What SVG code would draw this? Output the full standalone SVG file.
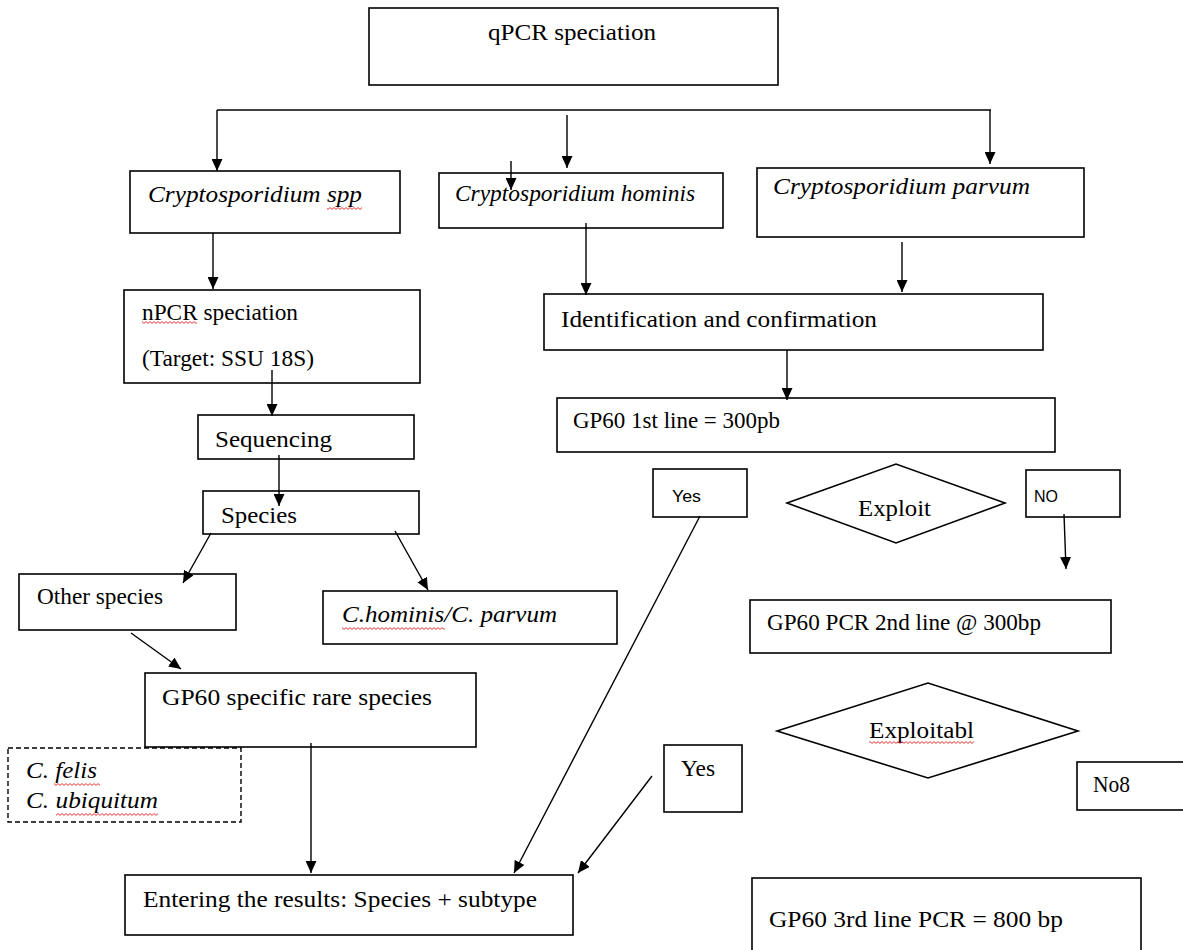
<svg xmlns="http://www.w3.org/2000/svg" width="1183" height="950" viewBox="0 0 1183 950">
<style>
  .box{fill:#fff;stroke:#000;stroke-width:1.6}
  .dash{fill:#fff;stroke:#000;stroke-width:1.4;stroke-dasharray:5,3}
  .dia{fill:#fff;stroke:#000;stroke-width:1.6}
  .t{font-family:"Liberation Serif","Times New Roman",serif;font-size:24px;fill:#000}
  .i{font-style:italic}
  .s{font-family:"Liberation Sans",Arial,sans-serif;font-size:17px;fill:#000}
  .c line{stroke:#000;stroke-width:1.4}
  .a{marker-end:url(#ah)}
</style>
<defs>
  <marker id="ah" markerUnits="userSpaceOnUse" markerWidth="12" markerHeight="11" refX="12" refY="5.5" orient="auto">
    <path d="M0,0 L12,5.5 L0,11 z" fill="#000"/>
  </marker>
  <pattern id="sq" patternUnits="userSpaceOnUse" width="4" height="3">
    <path d="M0,2.4 L2,0.6 L4,2.4" fill="none" stroke="#e02020" stroke-width="0.9"/>
  </pattern>
</defs>
<rect width="1183" height="950" fill="#fff"/>

<g id="n-qpcr"><rect class="box" x="369" y="8" width="409" height="77"/><text class="t" x="488" y="40" textLength="168" lengthAdjust="spacingAndGlyphs">qPCR speciation</text></g>

<g id="n-spp"><rect class="box" x="130" y="171" width="270" height="62"/><text class="t i" x="148" y="202" textLength="214" lengthAdjust="spacingAndGlyphs">Cryptosporidium spp</text><rect x="327" y="207" width="35" height="3" fill="url(#sq)"/></g>

<g id="n-hominis"><rect class="box" x="439" y="173" width="284" height="55"/><text class="t i" x="455" y="201" textLength="240" lengthAdjust="spacingAndGlyphs">Cryptosporidium hominis</text></g>

<g id="n-parvum"><rect class="box" x="757" y="168" width="327" height="69"/><text class="t i" x="773" y="194" textLength="257" lengthAdjust="spacingAndGlyphs">Cryptosporidium parvum</text></g>

<g id="n-npcr"><rect class="box" x="124" y="290" width="296" height="93"/><text class="t" x="142" y="320" textLength="156" lengthAdjust="spacingAndGlyphs">nPCR speciation</text><text class="t" x="142" y="366" textLength="172" lengthAdjust="spacingAndGlyphs">(Target: SSU 18S)</text><rect x="142" y="321" width="55" height="3" fill="url(#sq)"/></g>

<g id="n-seq"><rect class="box" x="198" y="415" width="216" height="44"/><text class="t" x="215" y="447" textLength="117" lengthAdjust="spacingAndGlyphs">Sequencing</text></g>

<g id="n-species"><rect class="box" x="203" y="491" width="216" height="43"/><text class="t" x="221" y="523" textLength="76" lengthAdjust="spacingAndGlyphs">Species</text></g>

<g id="n-other"><rect class="box" x="19" y="574" width="217" height="56"/><text class="t" x="37" y="604" textLength="126" lengthAdjust="spacingAndGlyphs">Other species</text></g>

<g id="n-chp"><rect class="box" x="323" y="591" width="294" height="53"/><text class="t i" x="342" y="622" textLength="215" lengthAdjust="spacingAndGlyphs">C.hominis/C. parvum</text><rect x="342" y="627" width="103" height="3" fill="url(#sq)"/></g>

<g id="n-rare"><rect class="box" x="145" y="673" width="331" height="74"/><text class="t" x="162" y="705" textLength="270" lengthAdjust="spacingAndGlyphs">GP60 specific rare species</text></g>

<g id="n-felis"><rect class="dash" x="8" y="748" width="233" height="74"/><text class="t i" x="26" y="778" textLength="71" lengthAdjust="spacingAndGlyphs">C. felis</text><text class="t i" x="26" y="808" textLength="132" lengthAdjust="spacingAndGlyphs">C. ubiquitum</text><rect x="54" y="783" width="46" height="3" fill="url(#sq)"/><rect x="56" y="813" width="102" height="3" fill="url(#sq)"/></g>

<g id="n-enter"><rect class="box" x="125" y="875" width="448" height="60"/><text class="t" x="143" y="907" textLength="394" lengthAdjust="spacingAndGlyphs">Entering the results: Species + subtype</text></g>

<g id="n-ident"><rect class="box" x="544" y="294" width="499" height="56"/><text class="t" x="561" y="327" textLength="316" lengthAdjust="spacingAndGlyphs">Identification and confirmation</text></g>

<g id="n-gp1"><rect class="box" x="557" y="398" width="498" height="54"/><text class="t" x="573" y="428" textLength="207" lengthAdjust="spacingAndGlyphs">GP60 1st line = 300pb</text></g>

<g id="n-yes1"><rect class="box" x="653" y="469" width="94" height="48"/><text class="s" x="672" y="502" textLength="29" lengthAdjust="spacingAndGlyphs">Yes</text></g>

<g id="n-exploit"><polygon class="dia" points="787,503 896,464 1005,503 896,543"/><text class="t" x="858" y="516" textLength="73" lengthAdjust="spacingAndGlyphs">Exploit</text></g>

<g id="n-no"><rect class="box" x="1026" y="470" width="94" height="47"/><text class="s" x="1034" y="502" textLength="24" lengthAdjust="spacingAndGlyphs">NO</text></g>

<g id="n-gp2"><rect class="box" x="750" y="600" width="361" height="53"/><text class="t" x="767" y="630" textLength="274" lengthAdjust="spacingAndGlyphs">GP60 PCR 2nd line @ 300bp</text></g>

<g id="n-exploitabl"><polygon class="dia" points="777,731 928,683 1078,731 928,778"/><text class="t" x="869" y="738" textLength="105" lengthAdjust="spacingAndGlyphs">Exploitabl</text><rect x="869" y="741" width="105" height="3" fill="url(#sq)"/></g>

<g id="n-yes2"><rect class="box" x="664" y="745" width="78" height="67"/><text class="t" x="681" y="776" textLength="34" lengthAdjust="spacingAndGlyphs">Yes</text></g>

<g id="n-no8"><rect class="box" x="1077" y="762" width="110" height="48"/><text class="t" x="1093" y="792" textLength="37" lengthAdjust="spacingAndGlyphs">No8</text></g>

<g id="n-gp3"><rect class="box" x="752" y="878" width="389" height="80"/><text class="t" x="769" y="927" textLength="294" lengthAdjust="spacingAndGlyphs">GP60 3rd line PCR = 800 bp</text></g>

<g id="connectors" class="c">
  <line x1="217" y1="110" x2="991" y2="110"/>
  <line class="a" x1="217" y1="110" x2="217" y2="171"/>
  <line class="a" x1="567" y1="115" x2="567" y2="168"/>
  <line class="a" x1="990" y1="110" x2="990" y2="164"/>
  <line class="a" x1="511" y1="161" x2="511" y2="190"/>
  <line class="a" x1="213" y1="233" x2="213" y2="289"/>
  <line class="a" x1="586" y1="223" x2="586" y2="295"/>
  <line class="a" x1="902" y1="242" x2="902" y2="292"/>
  <line class="a" x1="272" y1="370" x2="272" y2="416"/>
  <line class="a" x1="279" y1="455" x2="279" y2="506"/>
  <line class="a" x1="211" y1="533" x2="183" y2="583"/>
  <line class="a" x1="395" y1="531" x2="428" y2="590"/>
  <line class="a" x1="131" y1="633" x2="181" y2="669"/>
  <line class="a" x1="311" y1="743" x2="311" y2="873"/>
  <line class="a" x1="787" y1="350" x2="787" y2="400"/>
  <line class="a" x1="700" y1="516" x2="514" y2="873"/>
  <line class="a" x1="652" y1="776" x2="578" y2="873"/>
  <line class="a" x1="1064" y1="514" x2="1066" y2="569"/>
</g>
</svg>
